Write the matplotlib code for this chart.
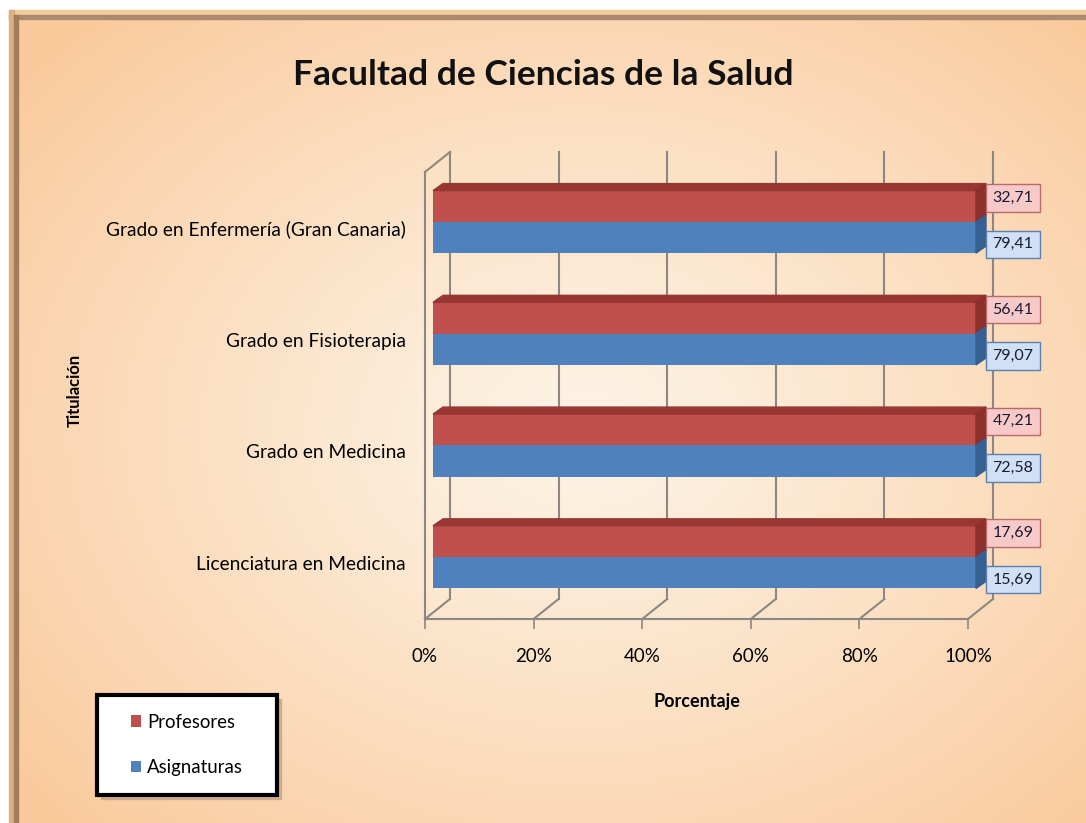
import numpy as np
import matplotlib
matplotlib.use("Agg")
import matplotlib.pyplot as plt
from matplotlib.patches import Polygon, Rectangle

plt.rcParams['font.family'] = ['Lato', 'DejaVu Sans']

# datos (de abajo hacia arriba)
categories = ["Licenciatura en Medicina", "Grado en Medicina",
              "Grado en Fisioterapia", "Grado en Enfermería (Gran Canaria)"]
profesores = [17.69, 47.21, 56.41, 32.71]
asignaturas = [15.69, 72.58, 79.07, 79.41]
tick_vals = [0, 20, 40, 60, 80, 100]
tick_labels = ["0%", "20%", "40%", "60%", "80%", "100%"]

W, H = 1086, 823
fig = plt.figure(figsize=(W / 100, H / 100), dpi=100)

# fondo con degradado radial
bg = fig.add_axes([0, 0, 1, 1])
yy, xx = np.mgrid[0:H, 0:W]
d = np.sqrt(((xx - 580) / 720.0) ** 2 + ((yy - 430) / 560.0) ** 2)
d = np.clip(d, 0, 1) ** 1.2
c0 = np.array([253, 243, 229]) / 255.0
c1 = np.array([250, 202, 156]) / 255.0
img = c0[None, None, :] * (1 - d[..., None]) + c1[None, None, :] * d[..., None]
bg.imshow(img, extent=[0, W, H, 0], aspect='auto', zorder=0)
bg.add_patch(Rectangle((0, 0), W, 10, color='white', zorder=1))
bg.add_patch(Rectangle((0, 0), 9, H, color='white', zorder=1))
bg.add_patch(Rectangle((9, 10), W, 5, color='#f2cc9c', zorder=2))
bg.add_patch(Rectangle((9, 15), W, 4, color='#ab8a70', zorder=2))
bg.add_patch(Rectangle((9, 10), 5, H, color='#dcae80', zorder=2))
bg.add_patch(Rectangle((14, 15), 4, H, color='#a27c5c', zorder=2))
# cuadro de la leyenda con sombra
bg.add_patch(Rectangle((101, 699), 180, 100, color='#b89a80', alpha=0.6, zorder=3))
bg.add_patch(Rectangle((97, 695), 180, 100, fc='white', ec='black', lw=3, zorder=4))
bg.set_xlim(0, W)
bg.set_ylim(H, 0)
bg.axis('off')

# ejes (plano frontal)
ax = fig.add_axes([425 / W, 1 - 619 / H, 543 / W, 447 / H])
ax.set_xlim(0, 100)
ax.set_ylim(-0.5, 3.5)
ax.patch.set_visible(False)
PX = 100 / 543.0
PY = 4 / 447.0
grid_c = '#8c8782'

# profundidad de paredes y barras
dx, dy = 25 * PX, 20 * PY
bx, by = 8 * PX, 6 * PY
ddx, ddy = 10 * PX, 7 * PY
h = 0.28

for t in tick_vals:
    ax.plot([t, t + dx], [-0.5, -0.5 + dy], color=grid_c, lw=1.5, clip_on=False, zorder=1)
    ax.plot([t + dx, t + dx], [-0.5 + dy, 3.5 + dy], color=grid_c, lw=1.5, clip_on=False, zorder=1)
ax.plot([0, dx], [3.5, 3.5 + dy], color=grid_c, lw=1.5, clip_on=False, zorder=1)

y = np.arange(len(categories))
# cada barra es su propia pila al 100%
prof_share = 100 * np.array(profesores) / np.array(profesores)
asig_share = 100 * np.array(asignaturas) / np.array(asignaturas)

red, red_top, red_side = '#c0504d', '#983634', '#8c2f2d'
blue, blue_side = '#4f81bd', '#365f92'

b1 = ax.barh(y + by + h / 2, prof_share, left=bx, height=h, color=red, zorder=3, label='Profesores')
b2 = ax.barh(y + by - h / 2, asig_share, left=bx, height=h, color=blue, zorder=3, label='Asignaturas')
for p in list(b1) + list(b2):
    p.set_clip_on(False)

for i in range(len(categories)):
    top = y[i] + by + h
    bot = y[i] + by - h
    mid = y[i] + by
    r = bx + prof_share[i]
    rb = bx + asig_share[i]
    ax.add_patch(Polygon([(bx, top), (r, top), (r + ddx, top + ddy), (bx + ddx, top + ddy)],
                         closed=True, color=red_top, zorder=3, clip_on=False))
    ax.add_patch(Polygon([(r, mid), (r, top), (r + ddx, top + ddy), (r + ddx, mid + ddy)],
                         closed=True, color=red_side, zorder=3, clip_on=False))
    ax.add_patch(Polygon([(rb, bot), (rb, mid), (rb + ddx, mid + ddy), (rb + ddx, bot + ddy)],
                         closed=True, color=blue_side, zorder=3, clip_on=False))

    ax.annotate(f"{profesores[i]:.2f}".replace('.', ','), xy=(r, mid),
                xytext=(37 * 0.72, 24 * 0.72), textcoords='offset points',
                ha='center', va='center', fontsize=11.5, color='#1a1a33', zorder=5,
                annotation_clip=False,
                bbox=dict(boxstyle='square,pad=0.42', fc='#f8c9c9', ec='#b86a68', lw=1))
    ax.annotate(f"{asignaturas[i]:.2f}".replace('.', ','), xy=(rb, mid),
                xytext=(37 * 0.72, -22.5 * 0.72), textcoords='offset points',
                ha='center', va='center', fontsize=11.5, color='#1a1a33', zorder=5,
                annotation_clip=False,
                bbox=dict(boxstyle='square,pad=0.42', fc='#cfe0f7', ec='#5d7fae', lw=1))

for s in ['top', 'right']:
    ax.spines[s].set_visible(False)
for s in ['left', 'bottom']:
    ax.spines[s].set_color(grid_c)
    ax.spines[s].set_linewidth(1.5)

ax.set_xticks(tick_vals)
ax.set_xticklabels(tick_labels, fontsize=13.5)
ax.tick_params(axis='x', length=7.2, width=1.2, color=grid_c, pad=14)
ax.set_yticks(y)
ax.set_yticklabels(categories, fontsize=13.8)
ax.tick_params(axis='y', length=0, pad=14)

ax.set_xlabel("Porcentaje", fontsize=13, fontweight='bold')
ax.xaxis.set_label_coords(0.501, -0.165)
ax.set_ylabel("Titulación", fontsize=12, fontweight='bold')
ax.yaxis.set_label_coords(-0.630, 0.512)

fig.text(0.5, 1 - 75 / H, "Facultad de Ciencias de la Salud", ha='center', va='center',
         fontsize=25.5, fontweight='bold', color='#111111')

leg = fig.legend(loc='center', bbox_to_anchor=(187 / W, 1 - 745 / H), fontsize=13.4,
                 handlelength=0.55, handleheight=0.55, handletextpad=0.3,
                 labelspacing=1.55, borderpad=0, borderaxespad=0, frameon=False)

fig.savefig("out.png", dpi=100)
